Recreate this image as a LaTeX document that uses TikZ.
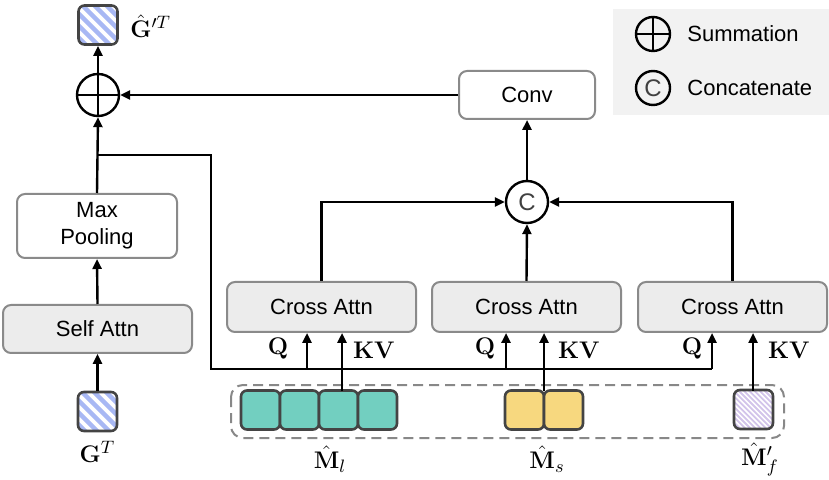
\documentclass[tikz,border=0pt]{standalone}
\usepackage[no-math]{fontspec}
\newfontfamily\arial{Liberation Sans}
\usetikzlibrary{arrows.meta}
\definecolor{boxfill}{HTML}{ECECEC}
\definecolor{boxborder}{HTML}{8A8A8A}
\definecolor{darkborder}{HTML}{444444}
\definecolor{tealfill}{HTML}{72CFC0}
\definecolor{yellowfill}{HTML}{F7D87F}
\definecolor{stripeblue}{HTML}{A8B8F4}
\definecolor{stripelav}{HTML}{D2C4EA}
\definecolor{legendbg}{HTML}{F2F2F2}
\definecolor{dashgray}{HTML}{888888}
\tikzset{
  txt/.style={font=\arial\fontsize{11}{13.5}\selectfont},
  mth/.style={font=\fontsize{12}{14}\selectfont, inner sep=0pt},
  bigmth/.style={font=\fontsize{13}{15}\selectfont, inner sep=0pt},
  graybox/.style={txt, draw=boxborder, line width=1pt, rounded corners=4pt, fill=boxfill, align=center, inner sep=0pt},
  whitebox/.style={graybox, fill=white},
  arr/.style={-{Triangle[length=5pt,width=4.5pt]}, line width=1.2pt},
  ln/.style={line width=1.2pt},
  opcirc/.style={circle, draw=black, line width=1.2pt, fill=white, inner sep=0pt},
  blk/.style={draw=darkborder, line width=1.3pt, rounded corners=3pt, inner sep=0pt, minimum size=19.5pt},
  gsq/.style={blk, fill=white, path picture={
      \foreach \i in {-5,...,5}{
        \draw[stripeblue, line width=2.2pt]
          ([xshift=\i*6pt, yshift=2pt]path picture bounding box.north west) -- ++(26pt,-26pt);
      }}},
  lsq/.style={blk, fill=white, path picture={
      \foreach \i in {-12,...,12}{
        \draw[stripelav, line width=0.9pt]
          ([xshift=\i*2.6pt, yshift=2pt]path picture bounding box.north west) -- ++(26pt,-26pt);
      }}},
}
\begin{document}
\begin{tikzpicture}[x=0.5pt, y=-0.5pt]
\useasboundingbox (0,0) rectangle (829,480);

% legend
\node[fill=legendbg, minimum width=108pt, minimum height=53pt, inner sep=0pt, anchor=north west] (legend) at (613,9) {};
\node[opcirc, minimum size=17pt, fill=none] (lsum) at (653,34) {};
\draw[ln] (lsum.north) -- (lsum.south) (lsum.west) -- (lsum.east);
\node[txt, anchor=west, inner sep=0pt] (lsumt) at (687,34) {Summation};
\node[opcirc, minimum size=17pt, fill=none, font=\arial\fontsize{12}{12}\selectfont, text=black!75] (lcat) at (653,88) {C};
\node[txt, anchor=west, inner sep=0pt] (lcatt) at (687,88) {Concatenate};

% left column
\node[gsq] (gin) at (97.5,411.5) {};
\node[bigmth] (ginl) at (97.5,452) {$\mathbf{G}^{T}$};
\node[graybox, minimum width=94.5pt, minimum height=24pt] (self) at (97.5,329) {Self Attn};
\node[whitebox, minimum width=80pt, minimum height=32pt] (pool) at (97,226) {Max\\Pooling};
\node[opcirc, minimum size=21pt] (sum) at (98,95) {};
\draw[ln] (sum.north) -- (sum.south) (sum.west) -- (sum.east);
\node[gsq] (gout) at (98,25) {};
\node[bigmth, anchor=west] (goutl) at (130,26) {$\hat{\mathbf{G}}^{\prime T}$};

\draw[arr] (gin.north) -- (self.south);
\draw[arr] (self.north) -- (pool.south);
\draw[arr] (pool.north) -- (sum.south);
\draw[arr] (sum.north) -- (gout.south);

% conv and concat
\node[whitebox, minimum width=68pt, minimum height=24pt] (conv) at (527,95) {Conv};
\node[opcirc, minimum size=21pt, font=\arial\fontsize{12}{12}\selectfont, text=black!75] (cat) at (527,202) {C};
\draw[arr] (conv.west) -- (sum.east);
\draw[arr] (cat.north) -- (conv.south);

% cross attention
\node[graybox, minimum width=94.5pt, minimum height=25pt] (ca1) at (321.5,307) {Cross Attn};
\node[graybox, minimum width=94.5pt, minimum height=25pt] (ca2) at (526.5,307) {Cross Attn};
\node[graybox, minimum width=94.5pt, minimum height=25pt] (ca3) at (732.5,307) {Cross Attn};
\draw[arr] (ca1.north) |- (cat.west);
\draw[arr] (ca2.north) -- (cat.south);
\draw[arr] (ca3.north) |- (cat.east);

% memory blocks
\draw[dashgray, line width=1pt, dash pattern=on 5pt off 3pt, rounded corners=6pt] (231,385) rectangle (784,438);
\node[blk, fill=tealfill] (t1) at (260.5,410) {};
\node[blk, fill=tealfill] (t2) at (299.5,410) {};
\node[blk, fill=tealfill] (t3) at (338.5,410) {};
\node[blk, fill=tealfill] (t4) at (377.5,410) {};
\node[blk, fill=yellowfill] (y1) at (524.5,410) {};
\node[blk, fill=yellowfill] (y2) at (563.5,410) {};
\node[lsq] (lav) at (753.5,409.5) {};
\node[bigmth] (ml) at (330,459) {$\hat{\mathbf{M}}_{l}$};
\node[bigmth] (ms) at (547,459) {$\hat{\mathbf{M}}_{s}$};
\node[bigmth] (mf) at (760,459) {$\hat{\mathbf{M}}^{\prime}_{f}$};

% query path
\coordinate (j1) at (98,155);
\coordinate (j2) at (211,369);
\coordinate (q1) at (307,369);
\coordinate (q2) at (506,369);
\coordinate (q3) at (712,369);
\draw[ln] (j1) -| (j2) -- (q3);
\draw[arr] (q1) -- (q1 |- ca1.south);
\draw[arr] (q2) -- (q2 |- ca2.south);
\draw[arr] (q3) -- (q3 |- ca3.south);

% key/value paths
\coordinate (k1) at (342,391);
\coordinate (k2) at (544,391);
\coordinate (k3) at (753,391);
\draw[arr] (k1) -- (k1 |- ca1.south);
\draw[arr] (k2) -- (k2 |- ca2.south);
\draw[arr] (k3) -- (k3 |- ca3.south);

% Q / KV labels
\node[mth] (lq1) at (278,349) {$\mathbf{Q}$};
\node[mth] (lk1) at (374,350) {$\mathbf{KV}$};
\node[mth] (lq2) at (485,349) {$\mathbf{Q}$};
\node[mth] (lk2) at (579,350) {$\mathbf{KV}$};
\node[mth] (lq3) at (692,349) {$\mathbf{Q}$};
\node[mth] (lk3) at (789,350) {$\mathbf{KV}$};
\end{tikzpicture}
\end{document}
